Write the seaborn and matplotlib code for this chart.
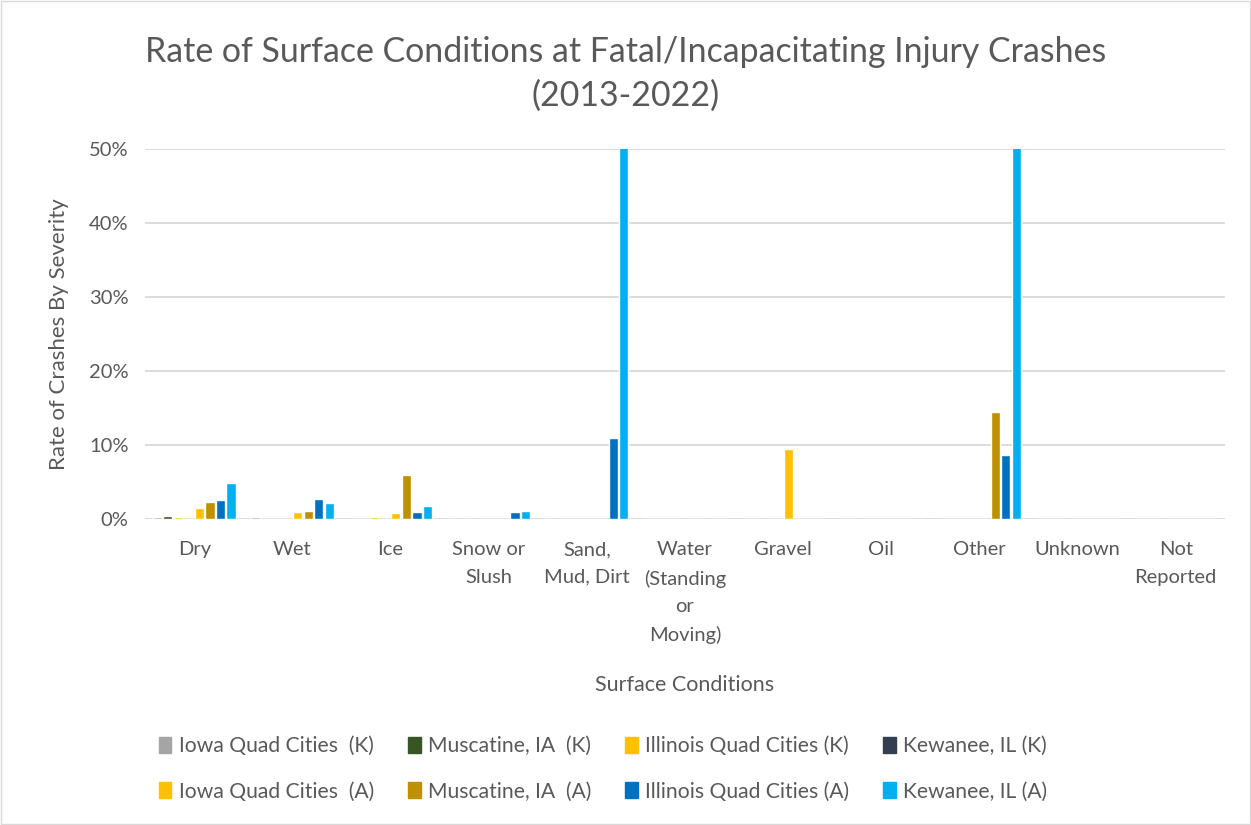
import matplotlib.pyplot as plt
import matplotlib.patches as mpatches
import seaborn as sns
import pandas as pd
from matplotlib.ticker import PercentFormatter

conditions = ["Dry", "Wet", "Ice", "Snow or\nSlush", "Sand,\nMud, Dirt",
              "Water\n(Standing\nor\nMoving)", "Gravel", "Oil", "Other",
              "Unknown", "Not\nReported"]

series_names = ["Iowa Quad Cities  (K)", "Muscatine, IA  (K)",
                "Illinois Quad Cities (K)", "Kewanee, IL (K)",
                "Iowa Quad Cities  (A)", "Muscatine, IA  (A)",
                "Illinois Quad Cities (A)", "Kewanee, IL (A)"]

iowa_qc_k = [0.002, 0.002, 0, 0, 0, 0, 0, 0, 0, 0, 0]
muscatine_k = [0.0035, 0, 0, 0, 0, 0, 0, 0, 0, 0, 0]
illinois_qc_k = [0.002, 0, 0.002, 0, 0, 0, 0, 0, 0, 0, 0]
kewanee_k = [0, 0, 0, 0, 0, 0, 0, 0, 0, 0, 0]
iowa_qc_a = [0.0145, 0.0095, 0.0075, 0, 0, 0, 0.095, 0, 0, 0, 0]
muscatine_a = [0.023, 0.011, 0.0595, 0, 0, 0, 0, 0, 0.144, 0, 0]
illinois_qc_a = [0.025, 0.0265, 0.0095, 0.0095, 0.1095, 0, 0, 0, 0.086, 0, 0]
kewanee_a = [0.049, 0.0215, 0.0175, 0.011, 1.0, 0, 0, 0, 1.0, 0, 0]

colors = ["#A5A5A5", "#375623", "#FFC000", "#333F50",
          "#FFC000", "#BF9000", "#0070C0", "#00B0F0"]

all_values = [iowa_qc_k, muscatine_k, illinois_qc_k, kewanee_k,
              iowa_qc_a, muscatine_a, illinois_qc_a, kewanee_a]
rows = []
for name, vals in zip(series_names, all_values):
    for cond, v in zip(conditions, vals):
        rows.append({"Surface Conditions": cond, "Series": name, "Rate": v})
df = pd.DataFrame(rows)

sns.set_theme(style="white")
plt.rcParams['font.family'] = ['Lato', 'DejaVu Sans']
text_color = "#595959"

fig = plt.figure(figsize=(12.51, 8.25), dpi=100)
ax = fig.add_axes([0.116, 0.371, 0.863, 0.448])

sns.barplot(data=df, x="Surface Conditions", y="Rate", hue="Series",
            order=conditions, hue_order=series_names, palette=colors,
            width=0.86, gap=0.12, ax=ax, legend=False, saturation=1)

ax.set_ylim(0, 0.5)
ax.set_xlim(-0.5, len(conditions) - 0.5)
ax.yaxis.set_major_formatter(PercentFormatter(1.0, decimals=0))
ax.set_yticks([0, 0.1, 0.2, 0.3, 0.4, 0.5])
ax.grid(axis="y", color="#D9D9D9", linewidth=1.3)
ax.set_axisbelow(True)
for s in ax.spines.values():
    s.set_visible(False)
ax.tick_params(axis="both", length=0, labelsize=14.5, colors=text_color, pad=12)
ax.tick_params(axis="x", pad=16)
for lbl in ax.get_xticklabels():
    lbl.set_linespacing(1.75)

ax.set_ylabel("Rate of Crashes By Severity", fontsize=16, color=text_color, labelpad=14)
ax.set_xlabel("Surface Conditions", fontsize=15.5, color=text_color, labelpad=22)

fig.text(0.5, 0.91, "Rate of Surface Conditions at Fatal/Incapacitating Injury Crashes\n(2013-2022)",
         ha="center", va="center", fontsize=24.4, color=text_color, linespacing=1.45)

order_idx = [0, 4, 1, 5, 2, 6, 3, 7]
handles = [mpatches.Patch(color=colors[i], label=series_names[i]) for i in order_idx]
fig.legend(handles=handles, loc="center", bbox_to_anchor=(0.482, 0.068), ncol=4,
           frameon=False, fontsize=15.2, labelcolor=text_color,
           handlelength=0.6, handleheight=0.8, handletextpad=0.35,
           columnspacing=1.6, labelspacing=1.2)

fig.patches.append(mpatches.Rectangle((0.001, 0.001), 0.998, 0.998, transform=fig.transFigure,
                                      fill=False, edgecolor="#D9D9D9", linewidth=1))

fig.savefig("out.png", dpi=100, facecolor="white")
